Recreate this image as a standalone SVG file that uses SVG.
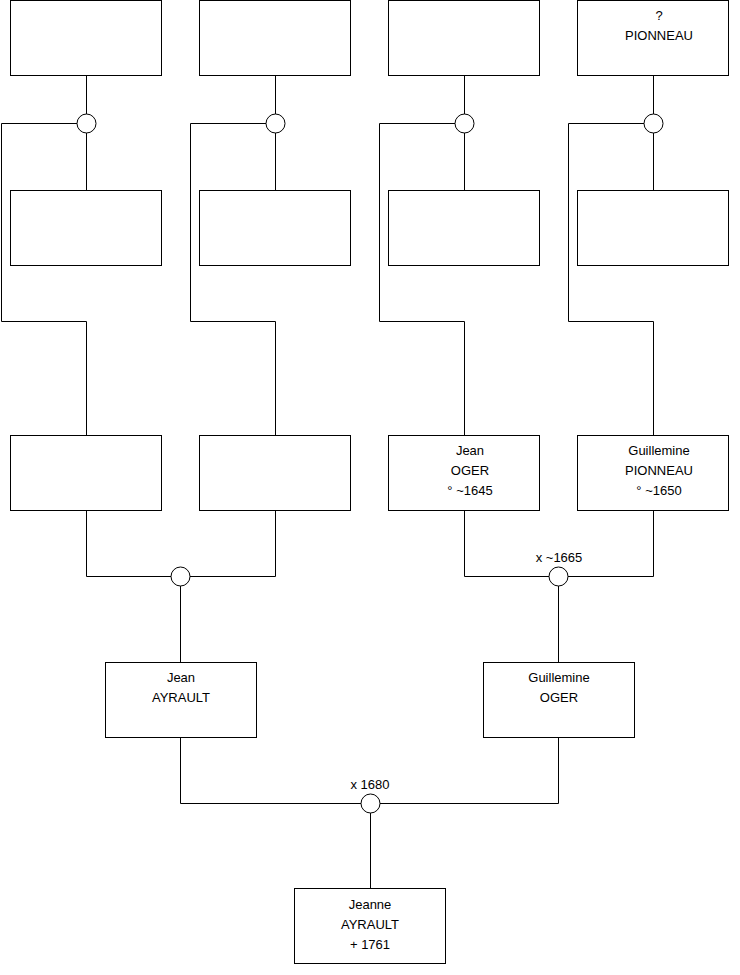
<svg xmlns="http://www.w3.org/2000/svg" width="740" height="975" viewBox="0 0 740 975">
<style>
.box{fill:#fff;stroke:#000;stroke-width:1}
.ln{fill:none;stroke:#000;stroke-width:1}
.un{fill:#fff;stroke:#000;stroke-width:1}
text{font-family:"Liberation Sans",Arial,sans-serif;font-size:13px;fill:#000;text-anchor:middle}
</style>
<rect width="740" height="975" fill="#fff"/>
<g id="connectors">
<path class="ln" d="M86.5 75.5V190.5M77 123.5H1.5V321.5H86.5V435.5"/>
<path class="ln" d="M275.5 75.5V190.5M266 123.5H190.5V321.5H275.5V435.5"/>
<path class="ln" d="M464.5 75.5V190.5M455 123.5H379.5V321.5H464.5V435.5"/>
<path class="ln" d="M653.5 75.5V190.5M644 123.5H568.5V321.5H653.5V435.5"/>
<path class="ln" d="M86.5 510.5V576.5H275.5V510.5M180.5 576.5V662.5"/>
<path class="ln" d="M464.5 510.5V576.5H653.5V510.5M558.5 576.5V662.5"/>
<path class="ln" d="M180.5 737.5V803.5H558.5V737.5M370.5 803.5V888.5"/>
</g>
<g id="u1"><circle class="un" cx="86.5" cy="123.5" r="9.5"/></g>
<g id="u2"><circle class="un" cx="275.5" cy="123.5" r="9.5"/></g>
<g id="u3"><circle class="un" cx="464.5" cy="123.5" r="9.5"/></g>
<g id="u4"><circle class="un" cx="653.5" cy="123.5" r="9.5"/></g>
<g id="u5"><circle class="un" cx="180.5" cy="576.5" r="9.5"/></g>
<g id="u6"><circle class="un" cx="558.5" cy="576.5" r="9.5"/><text x="559" y="562">x ~1665</text></g>
<g id="u7"><circle class="un" cx="370.5" cy="803.5" r="9.5"/><text x="370" y="789">x 1680</text></g>
<g id="n1"><rect class="box" x="10.5" y="0.5" width="151" height="75"/></g>
<g id="n2"><rect class="box" x="199.5" y="0.5" width="151" height="75"/></g>
<g id="n3"><rect class="box" x="388.5" y="0.5" width="151" height="75"/></g>
<g id="n4"><rect class="box" x="577.5" y="0.5" width="151" height="75"/><text x="659" y="20">?</text><text x="659" y="40">PIONNEAU</text></g>
<g id="n5"><rect class="box" x="10.5" y="190.5" width="151" height="75"/></g>
<g id="n6"><rect class="box" x="199.5" y="190.5" width="151" height="75"/></g>
<g id="n7"><rect class="box" x="388.5" y="190.5" width="151" height="75"/></g>
<g id="n8"><rect class="box" x="577.5" y="190.5" width="151" height="75"/></g>
<g id="n9"><rect class="box" x="10.5" y="435.5" width="151" height="75"/></g>
<g id="n10"><rect class="box" x="199.5" y="435.5" width="151" height="75"/></g>
<g id="n11"><rect class="box" x="388.5" y="435.5" width="151" height="75"/><text x="470" y="455">Jean</text><text x="470" y="475">OGER</text><text x="470" y="495">° ~1645</text></g>
<g id="n12"><rect class="box" x="577.5" y="435.5" width="151" height="75"/><text x="659" y="455">Guillemine</text><text x="659" y="475">PIONNEAU</text><text x="659" y="495">° ~1650</text></g>
<g id="n13"><rect class="box" x="105.5" y="662.5" width="151" height="75"/><text x="181" y="682">Jean</text><text x="181" y="702">AYRAULT</text></g>
<g id="n14"><rect class="box" x="483.5" y="662.5" width="151" height="75"/><text x="559" y="682">Guillemine</text><text x="559" y="702">OGER</text></g>
<g id="n15"><rect class="box" x="294.5" y="888.5" width="151" height="75"/><text x="370" y="909">Jeanne</text><text x="370" y="929">AYRAULT</text><text x="370" y="949">+ 1761</text></g>
</svg>
